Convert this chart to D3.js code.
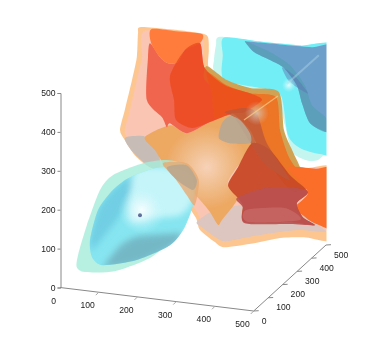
<!DOCTYPE html>
<html>
<head>
<meta charset="utf-8">
<script src="https://cdn.jsdelivr.net/npm/d3@7"></script>
<style>
body { margin: 0; background: #fff; }
svg { display: block; }
text { font-family: "Liberation Sans", Arial, sans-serif; font-size: 8.6px; fill: #222; }
</style>
</head>
<body>
<svg id="chart" width="374" height="350"></svg>
<script>
// axis ticks
var xTicks = [0, 100, 200, 300, 400, 500];
var yTicks = [0, 100, 200, 300, 400, 500];
var zTicks = [0, 100, 200, 300, 400, 500];

// isosurface outlines, as [x, z] in the view plane
var cyanOuter = [[400,628],[500,616],[600,606],[700,597],[700,340],[665,335],[645,320],[620,318],[580,340],[562,408],[537,482],[450,495],[387,540],[385,570],[390,607]];
var cyanInner = [[410,626],[500,616],[600,606],[700,597],[700,345],[650,335],[600,350],[570,382],[552,482],[500,500],[410,520],[407,582]];
var blueSheet = [[462,617],[470,616],[550,609],[630,602],[700,597],[700,382],[665,390],[625,412],[605,462],[592,507],[560,550],[525,570],[485,590]];
var tealBand = [[462,617],[485,590],[525,570],[560,550],[592,507],[605,462],[625,412],[665,390],[665,425],[630,457],[612,507],[575,557],[525,590],[487,607]];
var purpleLens = [[555,552],[587,530],[620,487],[595,500],[570,520]];
var blueRay = [[567,510],[647,582]];

var shellOuter = [[200,652],[260,648],[317,642],[367,632],[372,595],[372,550],[412,520],[475,495],[540,488],[547,484],[557,395],[580,345],[595,307],[620,300],[700,297],[700,125],[610,127],[550,125],[485,112],[410,102],[387,115],[350,145],[340,175],[312,220],[287,295],[225,302],[187,332],[162,370],[150,395],[162,445],[180,520],[192,577],[195,637]];
var shellInner = [[210,642],[317,635],[357,625],[362,545],[412,510],[475,485],[537,477],[547,395],[570,340],[587,300],[700,290],[700,150],[612,150],[550,145],[485,132],[420,120],[395,130],[357,155],[347,182],[315,232],[275,295],[225,307],[187,345],[167,377],[162,395],[175,445],[192,520],[205,577]];
var grayPatch = [[162,375],[207,380],[230,365],[245,350],[250,300],[225,302],[182,340]];
var bottomSheet = [[342,165],[387,195],[462,207],[600,195],[655,150],[662,140],[600,145],[550,140],[485,130],[415,117],[392,125],[357,150]];
var centerLobe = [[212,377],[275,407],[317,387],[375,415],[430,437],[480,395],[487,362],[450,312],[425,277],[420,257],[445,225],[405,170],[395,158],[375,190],[350,220],[325,245],[262,295],[257,312],[237,345]];

var blobOuter = [[45,82],[67,157],[100,245],[132,282],[207,312],[267,320],[317,307],[342,270],[330,207],[312,157],[280,120],[225,75],[137,42],[62,40],[42,52]];
var blobInner = [[75,120],[95,195],[132,245],[175,277],[250,302],[325,295],[335,220],[312,152],[275,107],[192,70],[107,57],[80,77]];
var blobLeftFacet = [[75,120],[95,195],[132,245],[175,277],[182,245],[150,182],[112,132],[80,95]];
var blobLowFacet = [[110,55],[150,105],[187,127],[225,132],[307,135],[275,100],[192,62],[112,50]];
var blobLight = [[187,290],[262,302],[330,282],[332,220],[300,182],[225,175],[175,170]];
var blobCore = [[200, 182]];
var tipVeil = [[257,312],[317,312],[347,270],[337,207],[317,232],[287,275]];
var tipPatch = [[267,302],[317,307],[342,270],[332,245],[292,270]];

var redLobe = [[220,577],[225,612],[250,577],[270,562],[295,565],[312,595],[350,612],[362,550],[412,507],[462,457],[430,437],[375,415],[317,387],[275,412],[267,402],[255,427],[217,470]];
var centerRed = [[312,595],[350,612],[362,550],[412,507],[475,487],[505,470],[462,440],[430,437],[375,415],[330,400],[290,420],[285,470],[275,530]];
var topOrange = [[228,647],[290,642],[355,635],[350,612],[312,595],[295,565],[270,562],[250,577],[228,612]];
var oliveBand = [[367,555],[417,520],[475,500],[547,490],[560,395],[580,345],[600,300],[575,300],[550,382],[535,470],[475,470],[412,482],[362,520]];
var starOrange = [[367,540],[417,507],[475,487],[540,477],[550,395],[570,332],[590,300],[625,257],[575,245],[500,345],[475,395],[430,437],[387,425],[380,482]];
var rustPatch = [[412,440],[460,450],[492,437],[517,362],[575,270],[512,310],[475,365],[437,425]];
var grayLens = [[425,430],[450,420],[475,387],[475,362],[425,362],[397,375],[405,412]];
var rightOrange = [[570,300],[640,298],[700,297],[700,150],[637,162],[607,182],[587,202],[620,240]];
var darkRed = [[420,257],[445,302],[480,362],[525,345],[575,282],[620,240],[592,212],[607,177],[637,157],[575,165],[462,165],[457,207],[445,225]];
var roseBand = [[442,225],[512,250],[580,252],[620,240],[592,212],[607,177],[637,157],[575,160],[462,162],[457,202]];
var roseLight = [[465,195],[562,200],[600,170],[470,165]];
var starRay = [[460,420],[545,480]];

var svg = d3.select("#chart");

// the view plane of the surfaces
var viewX = d3.scaleLinear().domain([0, 500]).range([60, 260]);
var viewZ = d3.scaleLinear().domain([0, 500]).range([288, 88]);

// the three axes of the box, as they lie on screen
var zScale = d3.scaleLinear().domain([0, 500]).range([287.5, 93]);
var xAxisX = d3.scaleLinear().domain([0, 500]).range([60, 253.7]);
var xAxisY = d3.scaleLinear().domain([0, 500]).range([287.5, 311]);
var yAxisX = d3.scaleLinear().domain([0, 500]).range([253.7, 326]);
var yAxisY = d3.scaleLinear().domain([0, 500]).range([311, 245]);

var defs = svg.append("defs");
defs.append("clipPath").attr("id", "box").append("rect")
    .attr("x", 0).attr("y", 0).attr("width", 326.5).attr("height", 350);
defs.append("filter").attr("id", "soft").append("feGaussianBlur").attr("stdDeviation", 0.6);
defs.append("filter").attr("id", "softer").append("feGaussianBlur").attr("stdDeviation", 3);
defs.append("filter").attr("id", "softText").append("feGaussianBlur").attr("stdDeviation", 0.25);

function glow(id, cx, cz, r, stops) {
    var g = defs.append("radialGradient").attr("id", id)
        .attr("gradientUnits", "userSpaceOnUse")
        .attr("cx", viewX(cx)).attr("cy", viewZ(cz)).attr("r", r);
    stops.forEach(function(s) {
        g.append("stop").attr("offset", s[0]).attr("stop-color", s[1]).attr("stop-opacity", s[2]);
    });
}
glow("lobeFill", 367, 302, 42, [[0, "#f7d2b8", 1], [0.5, "#f0bd8c", 1], [1, "#eda862", 1]]);
glow("blobGlow", 205, 195, 24, [[0, "#ffffff", 0.85], [0.4, "#e6fbfd", 0.6], [1, "#bff5fa", 0]]);
glow("starGlow", 572, 507, 7, [[0, "#ffffff", 0.8], [1, "#c5f8fb", 0]]);
glow("lensGlow", 492, 437, 12, [[0, "#d8c8b0", 0.85], [1, "#d8b0a0", 0]]);

var outline = d3.line()
    .x(function(d) { return viewX(d[0]); })
    .y(function(d) { return viewZ(d[1]); })
    .curve(d3.curveCardinalClosed.tension(0.25));

defs.append("clipPath").attr("id", "blobClip").append("path").attr("d", outline(blobInner));

var backLayers = [
    [cyanOuter, "#c4f5ef", 1],
    [cyanInner, "#72eef6", 1],
    [blueSheet, "#6c9fca", 1],
    [tealBand, "#4f9fae", 0.55],
    [purpleLens, "#5a6fb0", 0.45],
    [shellOuter, "#fdc48c", 0.97],
    [shellInner, "#fbc5b3", 1],
    [grayPatch, "#c8bdb6", 1],
    [bottomSheet, "#dcc6bf", 1],
    [centerLobe, "url(#lobeFill)", 1],
    [blobOuter, "#a5ecd9", 0.8],
    [blobInner, "#7fe4f2", 0.88]
];
var blobLayers = [
    [blobLeftFacet, "#62c0dc", 0.6],
    [blobLight, "#d4f9fb", 0.8],
    [blobLowFacet, "#6fa9b8", 0.75]
];
var frontLayers = [
    [tipVeil, "#e8aa72", 0.8],
    [tipPatch, "#b9a78f", 0.85],
    [redLobe, "#ef5f48", 0.95],
    [topOrange, "#ff7c3c", 1],
    [oliveBand, "#cda050", 0.95],
    [starOrange, "#ec7425", 1],
    [centerRed, "#ec4a1e", 0.8],
    [rightOrange, "#fb6e2c", 1],
    [darkRed, "#c84a26", 0.95],
    [roseBand, "#b9504f", 0.9],
    [roseLight, "#cc7270", 0.6],
    [rustPatch, "#b9553a", 0.75],
    [grayLens, "#b8a792", 0.92]
];

function drawLayers(g, layers) {
    g.selectAll("path.surface").data(layers).enter().append("path")
        .attr("class", "surface")
        .attr("d", function(d) { return outline(d[0]); })
        .attr("fill", function(d) { return d[1]; })
        .attr("fill-opacity", function(d) { return d[2]; });
}

var surfaces = svg.append("g").attr("clip-path", "url(#box)");
drawLayers(surfaces.append("g").attr("filter", "url(#soft)"), backLayers);
drawLayers(surfaces.append("g").attr("clip-path", "url(#blobClip)").append("g").attr("filter", "url(#softer)"), blobLayers);

// glints on the surfaces
var glints = surfaces.append("g").attr("filter", "url(#soft)");
glints.append("circle").attr("cx", viewX(205)).attr("cy", viewZ(195)).attr("r", 24).attr("fill", "url(#blobGlow)");
glints.selectAll("circle.core").data(blobCore).enter().append("circle")
    .attr("class", "core")
    .attr("cx", function(d) { return viewX(d[0]); })
    .attr("cy", function(d) { return viewZ(d[1]); })
    .attr("r", 2).attr("fill", "#5f6f9c");

drawLayers(surfaces.append("g").attr("filter", "url(#soft)"), frontLayers);

var shine = surfaces.append("g").attr("filter", "url(#soft)");
shine.append("circle").attr("cx", viewX(572)).attr("cy", viewZ(507)).attr("r", 7).attr("fill", "url(#starGlow)");
shine.append("circle").attr("cx", viewX(492)).attr("cy", viewZ(437)).attr("r", 12).attr("fill", "url(#lensGlow)");
var ray = d3.line().x(function(d) { return viewX(d[0]); }).y(function(d) { return viewZ(d[1]); });
shine.append("path").attr("d", ray(blueRay)).attr("stroke", "#b8dbe8").attr("stroke-opacity", 0.4).attr("stroke-width", 2).attr("fill", "none");
shine.append("path").attr("d", ray(starRay)).attr("stroke", "#fad08a").attr("stroke-opacity", 0.7).attr("stroke-width", 1.2).attr("fill", "none");

// axes
var axes = svg.append("g").attr("filter", "url(#softText)");
var zAxis = d3.axisLeft(zScale).tickValues(zTicks).tickSize(3).tickPadding(2);
var zg = axes.append("g").attr("transform", "translate(60.5,0)").call(zAxis);
zg.select(".domain").attr("stroke", "#888");
zg.selectAll(".tick line").attr("stroke", "#888");
zg.attr("font-size", null).attr("font-family", null);

axes.append("line").attr("x1", xAxisX(0)).attr("y1", xAxisY(0)).attr("x2", xAxisX(500)).attr("y2", xAxisY(500)).attr("stroke", "#888");
axes.selectAll("line.xt").data(xTicks.slice(1)).enter().append("line").attr("class", "xt")
    .attr("x1", function(d) { return xAxisX(d); })
    .attr("y1", function(d) { return xAxisY(d); })
    .attr("x2", function(d) { return xAxisX(d) - 3; })
    .attr("y2", function(d) { return xAxisY(d) + 3; })
    .attr("stroke", "#aaa");
axes.selectAll("text.xl").data(xTicks).enter().append("text").attr("class", "xl")
    .attr("x", function(d) { return xAxisX(d) - 4; })
    .attr("y", function(d) { return xAxisY(d) + 16; })
    .attr("text-anchor", "end")
    .text(function(d) { return d; });

axes.append("line").attr("x1", yAxisX(0)).attr("y1", yAxisY(0)).attr("x2", yAxisX(500)).attr("y2", yAxisY(500)).attr("stroke", "#888");
axes.selectAll("line.yt").data(yTicks).enter().append("line").attr("class", "yt")
    .attr("x1", function(d) { return yAxisX(d); })
    .attr("y1", function(d) { return yAxisY(d); })
    .attr("x2", function(d) { return yAxisX(d) + 5; })
    .attr("y2", function(d) { return yAxisY(d) - 0.3; })
    .attr("stroke", "#888");
axes.selectAll("text.yl").data(yTicks).enter().append("text").attr("class", "yl")
    .attr("x", function(d) { return yAxisX(d) + 8; })
    .attr("y", function(d) { return yAxisY(d) + 12.5; })
    .text(function(d) { return d; });
</script>
</body>
</html>
